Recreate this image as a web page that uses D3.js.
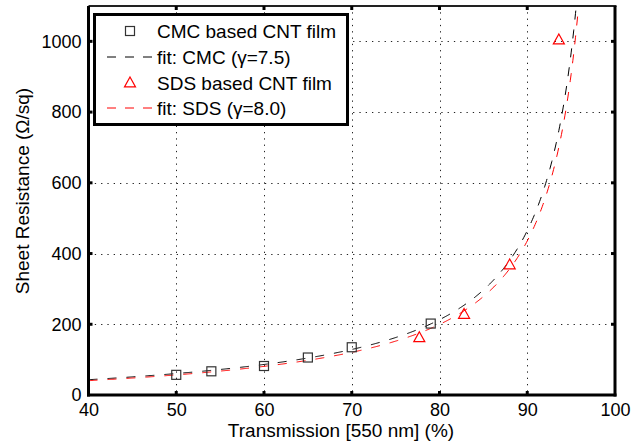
<!DOCTYPE html>
<html>
<head>
<meta charset="utf-8">
<script src="https://cdn.jsdelivr.net/npm/d3@7"></script>
<style>
  html, body { margin: 0; padding: 0; background: #fff; }
  svg { display: block; font-family: "Liberation Sans", Arial, Helvetica, sans-serif; }
</style>
</head>
<body>
<svg id="chart" width="632" height="445"></svg>
<script>
// Measured films: transmission at 550 nm (%) and sheet resistance (Ω/sq)
const cmcT = [50, 54, 60, 65, 70, 79];
const cmcR = [57, 67, 82, 106, 135, 202];
const sdsT = [77.7, 82.8, 88.0, 93.6];
const sdsR = [162, 228, 368, 1004];

// Fit parameter γ = σdc/σop for each series
const fitNames = ["CMC", "SDS"];
const fitGamma = [7.5, 8.0];

const xTicks = [40, 50, 60, 70, 80, 90, 100];
const yTicks = [0, 200, 400, 600, 800, 1000];

const legendLabels = [
  "CMC based CNT film",
  "fit: CMC (\u03b3=7.5)",
  "SDS based CNT film",
  "fit: SDS (\u03b3=8.0)"
];

(function () {
const svg = d3.select("#chart");
const pLeft = 88.5, pRight = 615, pTop = 6, pBottom = 395;

const x = d3.scaleLinear().domain([40, 100]).range([pLeft, pRight]);
const y = d3.scaleLinear().domain([0, 1100]).range([pBottom, pTop]);

// Thin-film relation: T = (1 + Z0 / (2 Rs γ))^-2  →  Rs = 188.5 / (γ (T^-1/2 − 1))
const Z0half = 188.5;
function fitR(tPct, g) {
  const t = tPct / 100;
  return Z0half / (g * (1 / Math.sqrt(t) - 1));
}

svg.append("defs").append("clipPath").attr("id", "plotClip")
  .append("rect").attr("x", pLeft).attr("y", pTop)
  .attr("width", pRight - pLeft).attr("height", pBottom - pTop);

// Dotted grid
const grid = svg.append("g").attr("stroke", "#222").attr("stroke-width", 1)
  .attr("stroke-dasharray", "1.3,5");
grid.selectAll("line.v").data(xTicks.slice(1, -1)).join("line").attr("class", "v")
  .attr("x1", d => Math.round(x(d)) + 0.5).attr("x2", d => Math.round(x(d)) + 0.5)
  .attr("y1", pTop).attr("y2", pBottom);
grid.selectAll("line.h").data(yTicks.slice(1)).join("line").attr("class", "h")
  .attr("x1", pLeft).attr("x2", pRight)
  .attr("y1", d => Math.round(y(d)) + 0.5).attr("y2", d => Math.round(y(d)) + 0.5);

// Fit curves
const tSamples = d3.range(40, 99.8, 0.1);
const line = d3.line().x(d => x(d[0])).y(d => y(d[1]));
const fitColors = ["#000", "#f00"];
const curves = svg.append("g").attr("clip-path", "url(#plotClip)");
fitGamma.forEach((g, i) => {
  const pts = tSamples.map(t => [t, fitR(t, g)]).filter(p => p[1] < 1400);
  curves.append("path")
    .attr("d", line(pts))
    .attr("fill", "none")
    .attr("stroke", fitColors[i])
    .attr("stroke-width", 1)
    .attr("stroke-dasharray", "9,10");
});

// Markers
const sq = 9;
svg.append("g").selectAll("rect").data(cmcT.map((t, i) => [t, cmcR[i]])).join("rect")
  .attr("x", d => x(d[0]) - sq / 2).attr("y", d => y(d[1]) - sq / 2)
  .attr("width", sq).attr("height", sq)
  .attr("fill", "none").attr("stroke", "#333").attr("stroke-width", 1.2);

const tri = (cx, cy, w) => {
  const h = w * 0.9;
  return `M${cx},${cy - h * 0.6}L${cx + w / 2},${cy + h * 0.4}L${cx - w / 2},${cy + h * 0.4}Z`;
};
svg.append("g").selectAll("path").data(sdsT.map((t, i) => [t, sdsR[i]])).join("path")
  .attr("d", d => tri(x(d[0]), y(d[1]), 11))
  .attr("fill", "none").attr("stroke", "#f00").attr("stroke-width", 1.2);

// Axes tick labels
const xAxis = d3.axisBottom(x).tickValues(xTicks).tickFormat(d3.format("d")).tickSize(0).tickPadding(5);
const yAxis = d3.axisLeft(y).tickValues(yTicks).tickFormat(d3.format("d")).tickSize(0).tickPadding(4);
const gx = svg.append("g").attr("transform", `translate(0,${pBottom + 3})`).call(xAxis);
const gy = svg.append("g").attr("transform", `translate(${pLeft - 3},0)`).call(yAxis);
[gx, gy].forEach(g => {
  g.select(".domain").remove();
  g.selectAll("text").attr("font-size", 18).attr("fill", "#000")
    .attr("font-family", "'Liberation Sans', Arial, sans-serif");
});
gy.selectAll("text").attr("dy", "0.32em");
gx.selectAll("text").attr("dy", "0.71em");

// Frame
const frame = svg.append("g");
frame.append("line").attr("x1", pLeft).attr("x2", pRight + 1.5).attr("y1", pTop).attr("y2", pTop)
  .attr("stroke", "#222").attr("stroke-width", 2);
frame.append("line").attr("x1", pLeft - 1.5).attr("x2", pRight + 1.5).attr("y1", pBottom).attr("y2", pBottom)
  .attr("stroke", "#000").attr("stroke-width", 3);
frame.append("line").attr("x1", pLeft).attr("x2", pLeft).attr("y1", pTop).attr("y2", pBottom + 1.5)
  .attr("stroke", "#000").attr("stroke-width", 3);
frame.append("line").attr("x1", pRight).attr("x2", pRight).attr("y1", pTop).attr("y2", pBottom + 1.5)
  .attr("stroke", "#000").attr("stroke-width", 3);

// Inward tick marks on all four sides
const tk = 4;
xTicks.slice(1, -1).forEach(v => {
  frame.append("line").attr("x1", x(v)).attr("x2", x(v)).attr("y1", pBottom).attr("y2", pBottom - tk)
    .attr("stroke", "#000").attr("stroke-width", 3);
  frame.append("line").attr("x1", x(v)).attr("x2", x(v)).attr("y1", pTop).attr("y2", pTop + tk)
    .attr("stroke", "#000").attr("stroke-width", 3);
});
yTicks.slice(1).forEach(v => {
  frame.append("line").attr("x1", pLeft).attr("x2", pLeft + tk).attr("y1", y(v)).attr("y2", y(v))
    .attr("stroke", "#000").attr("stroke-width", 3);
  frame.append("line").attr("x1", pRight).attr("x2", pRight - tk).attr("y1", y(v)).attr("y2", y(v))
    .attr("stroke", "#000").attr("stroke-width", 3);
});

// Axis titles
svg.append("text").attr("x", 341).attr("y", 437)
  .attr("text-anchor", "middle").attr("font-size", 19).text("Transmission [550 nm] (%)");
svg.append("text").attr("transform", "translate(28.5,191) rotate(-90)")
  .attr("text-anchor", "middle").attr("font-size", 19).text("Sheet Resistance (\u03a9/sq)");

// Legend
const lg = svg.append("g");
lg.append("rect").attr("x", 94.5).attr("y", 14.5).attr("width", 253).attr("height", 110)
  .attr("fill", "#fff").attr("stroke", "#000").attr("stroke-width", 3);
const rowY = [31, 57, 83, 108];
const lx1 = 107, lx2 = 152, mx = 130, tx = 157;
legendLabels.forEach((lab, i) => {
  const yy = rowY[i];
  if (i === 0) {
    lg.append("rect").attr("x", mx - sq / 2).attr("y", yy - sq / 2).attr("width", sq).attr("height", sq)
      .attr("fill", "none").attr("stroke", "#333").attr("stroke-width", 1.2);
  } else if (i === 2) {
    lg.append("path").attr("d", tri(mx, yy, 11)).attr("fill", "none")
      .attr("stroke", "#f00").attr("stroke-width", 1.2);
  } else {
    lg.append("line").attr("x1", lx1).attr("x2", lx2).attr("y1", yy).attr("y2", yy)
      .attr("stroke", i === 1 ? "#000" : "#f00").attr("stroke-width", 1)
      .attr("stroke-dasharray", "9,9");
  }
  lg.append("text").attr("x", tx).attr("y", yy).attr("dy", "0.35em")
    .attr("font-size", 19).text(lab);
});
})();
</script>
</body>
</html>
